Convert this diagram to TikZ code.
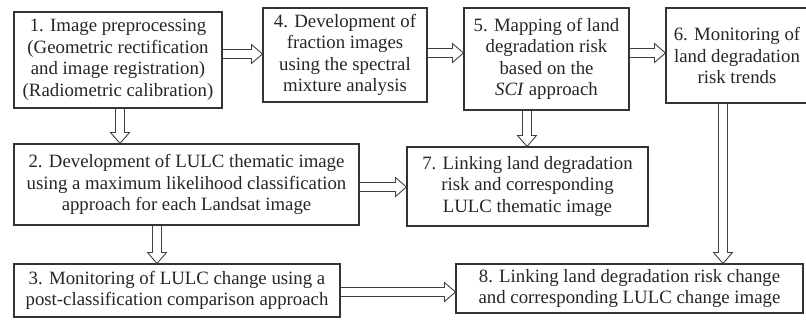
\documentclass[tikz,border=0pt]{standalone}
\usepackage{fontspec}
\setmainfont{Liberation Serif}
\usetikzlibrary{calc}
\tikzset{
  box/.style={draw=black!80, line width=1.1pt, align=center, inner sep=0pt,
    font=\fontsize{18.8}{21.5}\selectfont, text=black!85},
  blk/.style={draw=black!75, line width=0.9pt, line join=miter},
}
\newcommand\sw{4.5pt}
\newcommand\hw{9.5pt}
\newcommand\hl{11pt}
% horizontal block arrow to the right
\newcommand\harrow[2]{%
  \draw[blk] let \p1=(#1), \p2=(#2) in
    (\x1,\y1+\sw) -- (\x2-\hl,\y1+\sw) -- (\x2-\hl,\y1+\hw) -- (\x2,\y1)
    -- (\x2-\hl,\y1-\hw) -- (\x2-\hl,\y1-\sw) -- (\x1,\y1-\sw);}
% vertical block arrow downwards
\newcommand\varrow[2]{%
  \draw[blk] let \p1=(#1), \p2=(#2) in
    (\x1-\sw,\y1) -- (\x1-\sw,\y2+\hl) -- (\x1-\hw,\y2+\hl) -- (\x1,\y2)
    -- (\x1+\hw,\y2+\hl) -- (\x1+\sw,\y2+\hl) -- (\x1+\sw,\y1);}
\begin{document}
\begin{tikzpicture}[x=1pt,y=-1pt]
\useasboundingbox[fill=white] (0,0) rectangle (806,321);
% boxes: (left,top)-(right,bottom)
\node[box, minimum width=208pt, minimum height=96pt] (b1) at (118,60)
  {1. Image preprocessing\\(Geometric rectification\\and image registration)\\(Radiometric calibration)};
\node[box, minimum width=164pt, minimum height=94pt] (b4) at (345,55)
  {4. Development of\\fraction images\\using the spectral\\mixture analysis};
\node[box, minimum width=165pt, minimum height=102pt] (b5) at (546.5,59)
  {5. Mapping of land\\degradation risk\\based on the\\\textit{SCI} approach};
\node[box, minimum width=142pt, minimum height=95pt] (b6) at (737,55.5)
  {6. Monitoring of\\land degradation\\risk trends};
\node[box, minimum width=345pt, minimum height=81pt] (b2) at (186.5,184.5)
  {2. Development of LULC thematic image\\using a maximum likelihood classification\\approach for each Landsat image};
\node[box, minimum width=241pt, minimum height=79pt] (b7) at (527.5,186.5)
  {7. Linking land degradation\\risk and corresponding\\LULC thematic image};
\node[box, minimum width=326pt, minimum height=53pt] (b3) at (177,290.5)
  {3. Monitoring of LULC change using a\\post-classification comparison approach};
\node[box, minimum width=347pt, minimum height=49pt] (b8) at (629.5,288.5)
  {8. Linking land degradation risk change\\and corresponding LULC change image};
% arrows
\coordinate (s14) at (b1.east |- 0,54);
\coordinate (s45) at (b4.east |- 0,53);
\coordinate (s56) at (b5.east |- 0,53);
\harrow{s14}{b4.west |- s14}
\harrow{s45}{b5.west |- s45}
\harrow{s56}{b6.west |- s56}
\coordinate (s12) at (b1.south -| 120,0);
\varrow{s12}{b2.north -| s12}
\coordinate (s57) at (b5.south -| 527,0);
\varrow{s57}{b7.north -| s57}
\coordinate (s68) at (b6.south -| 723,0);
\varrow{s68}{b8.north -| s68}
\coordinate (s27) at (b2.east |- 0,187);
\harrow{s27}{b7.west |- s27}
\coordinate (s23) at (b2.south -| 157,0);
\varrow{s23}{b3.north -| s23}
\coordinate (s38) at (b3.east |- 0,292);
\harrow{s38}{b8.west |- s38}
\end{tikzpicture}
\end{document}
